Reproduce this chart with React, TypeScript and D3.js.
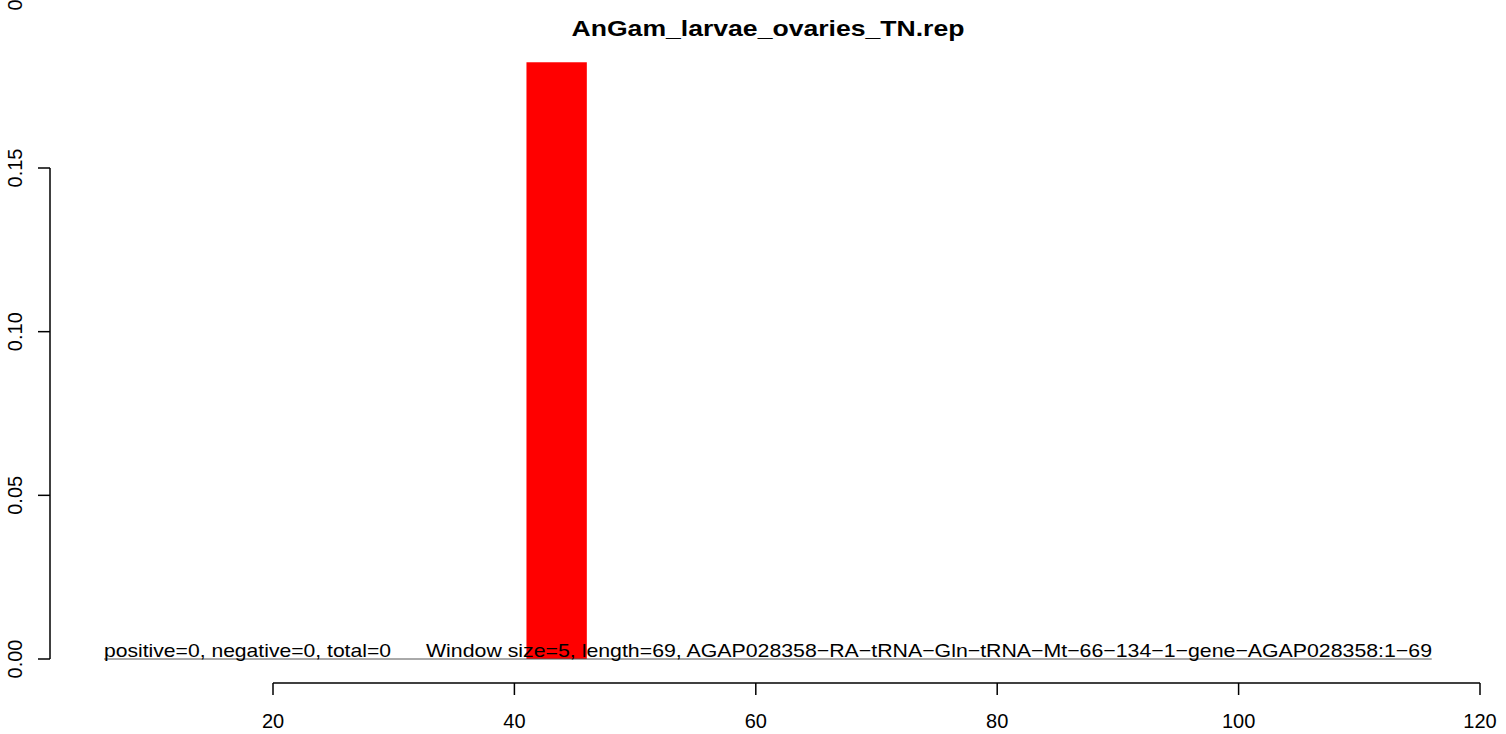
import React from "react";
import * as d3 from "d3";

const title = "AnGam_larvae_ovaries_TN.rep";
const barStarts = [41];
const barEnds = [46];
const barValues = [0.1823];
const xTicks = [20, 40, 60, 80, 100, 120];
const yTicks = [0, 0.05, 0.1, 0.15];
const lineRange = [6, 116];
const statsText = "positive=0, negative=0, total=0";
const infoText = "Window size=5, length=69, AGAP028358\u2212RA\u2212tRNA\u2212Gln\u2212tRNA\u2212Mt\u221266\u2212134\u22121\u2212gene\u2212AGAP028358:1\u221269";

export default function App() {
  const W = 1506, H = 734;
  const x = d3.scaleLinear().domain([20, 120]).range([273, 1480]);
  const y = d3.scaleLinear().domain([0, 0.15]).range([659, 168]);
  const font = "'Liberation Sans', Arial, Helvetica, sans-serif";
  const fmt = d3.format(".2f");
  return (
    <svg width={W} height={H} style={{ position: "absolute", left: 0, top: 0, background: "#fff" }} fontFamily={font}>
      <rect x={0} y={0} width={W} height={H} fill="#fff" />
      <text x={768} y={36} textAnchor="middle" fontWeight="bold" fontSize={22} textLength={393} lengthAdjust="spacingAndGlyphs">{title}</text>
      {barValues.map((v, i) => (
        <rect key={i} x={x(barStarts[i])} y={y(v)} width={x(barEnds[i]) - x(barStarts[i])} height={y(0) - y(v)} fill="#ff0000" />
      ))}
      <line x1={x(lineRange[0])} x2={x(lineRange[1])} y1={y(0)} y2={y(0)} stroke="#555" strokeWidth={1} />
      <text x={104} y={657} fontSize={19} textLength={287} lengthAdjust="spacingAndGlyphs">{statsText}</text>
      <text x={426} y={657} fontSize={19} textLength={1006} lengthAdjust="spacingAndGlyphs">{infoText}</text>
      {/* y axis */}
      <line x1={50} x2={50} y1={y(0.15)} y2={y(0)} stroke="#000" strokeWidth={1.5} />
      {yTicks.map((t) => (
        <g key={t}>
          <line x1={38} x2={50} y1={y(t)} y2={y(t)} stroke="#000" strokeWidth={1.5} />
          <text transform={`translate(22,${y(t)}) rotate(-90)`} textAnchor="middle" fontSize={20}>{fmt(t)}</text>
        </g>
      ))}
      <text transform={`translate(22,5) rotate(-90)`} textAnchor="middle" fontSize={20}>0</text>
      {/* x axis */}
      <line x1={x(20)} x2={x(120)} y1={683} y2={683} stroke="#000" strokeWidth={1.5} />
      {xTicks.map((t) => (
        <g key={t}>
          <line x1={x(t)} x2={x(t)} y1={683} y2={695} stroke="#000" strokeWidth={1.5} />
          <text x={x(t)} y={728} textAnchor="middle" fontSize={20}>{t}</text>
        </g>
      ))}
    </svg>
  );
}
